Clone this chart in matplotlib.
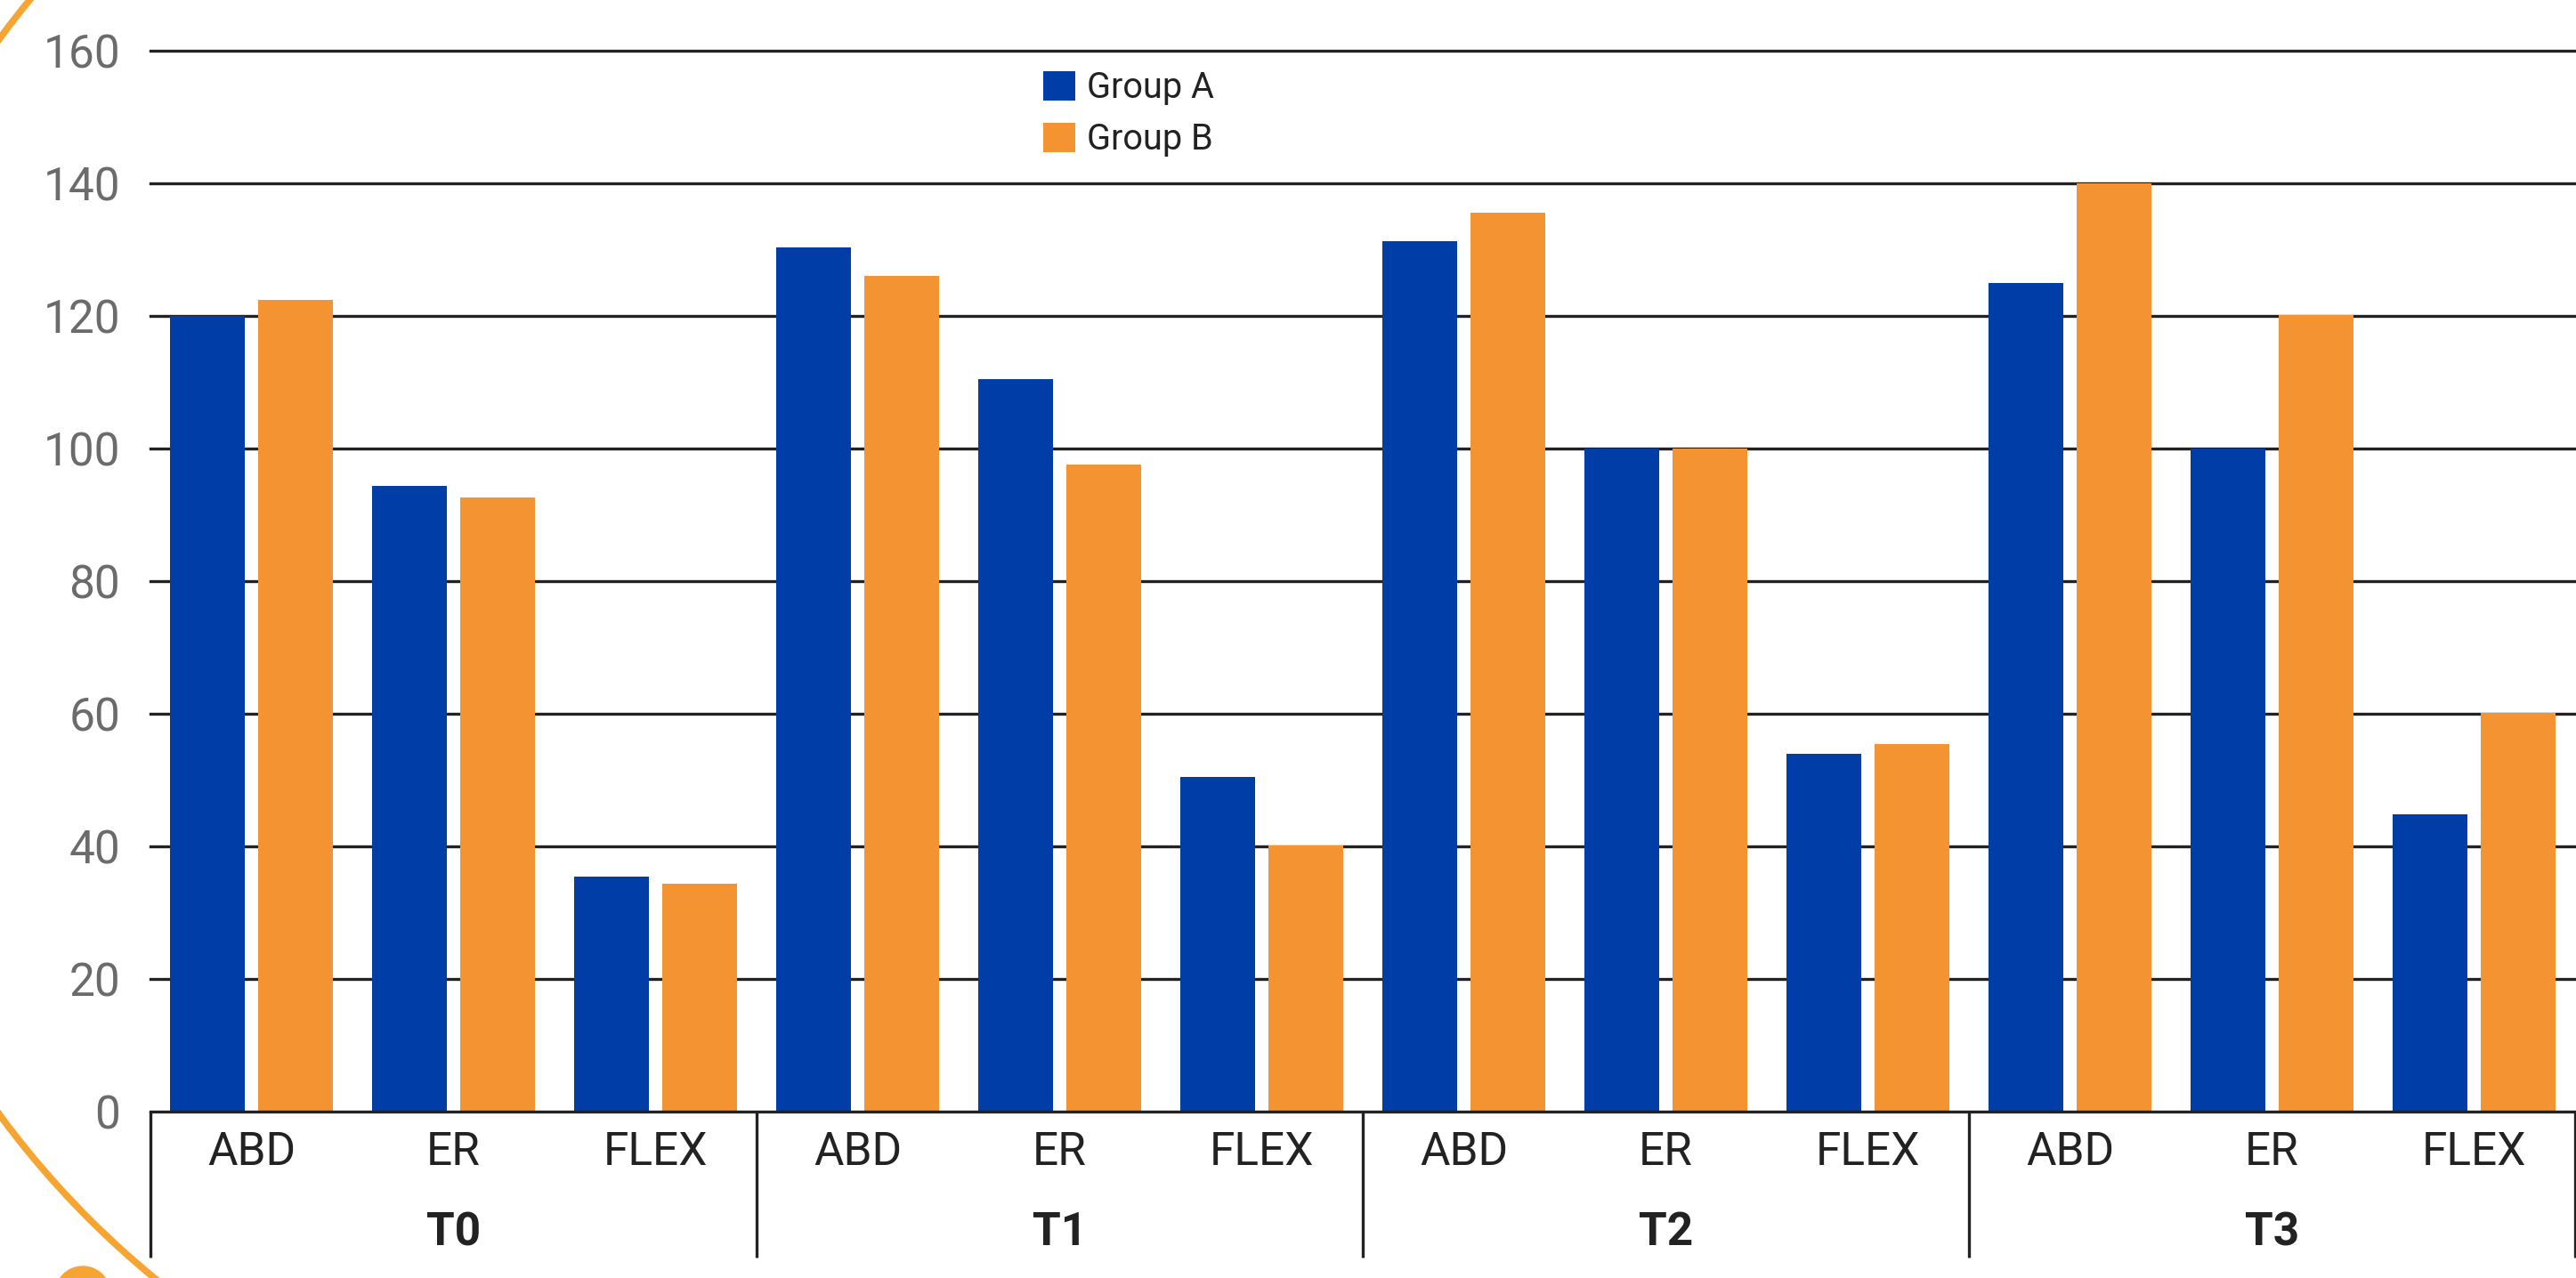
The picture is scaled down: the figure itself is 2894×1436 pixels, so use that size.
import matplotlib
matplotlib.use("Agg")
import matplotlib.pyplot as plt
from matplotlib.patches import Patch, Arc, Ellipse, Rectangle
from matplotlib.transforms import blended_transform_factory

# ---- data ----
periods = ["T0", "T1", "T2", "T3"]
movements = ["ABD", "ER", "FLEX"]
group_a = [120.0, 94.4, 35.4, 130.3, 110.5, 50.5, 131.3, 100.0, 54.0, 125.0, 100.0, 44.8]
group_b = [122.4, 92.6, 34.4, 126.1, 97.6, 40.1, 135.6, 100.0, 55.5, 140.0, 120.2, 60.1]
series_names = ["Group A", "Group B"]
y_ticks = [0, 20, 40, 60, 80, 100, 120, 140, 160]

# ---- style ----
BLUE = "#003DA6"
ORANGE = "#F39332"
DECOR = "#F6A533"
INK = "#222222"
GREY = "#6B6B6B"
FONT = ["Roboto", "DejaVu Sans"]
plt.rcParams["font.family"] = FONT

W, H, DPI = 2894, 1436, 100
PX = 72 / DPI  # points per pixel
fig = plt.figure(figsize=(W / DPI, H / DPI), dpi=DPI)
fig.patch.set_facecolor("white")

# axes frame in pixel terms
x_left, x_right = 169, 2893
y_top, y_base = 57, 1249
ax = fig.add_axes([x_left / W, (H - y_base) / H, (x_right - x_left) / W, (y_base - y_top) / H])
ax.set_facecolor("none")

n = len(group_a)
xs = list(range(n))
off, bw = 0.22, 0.37

ax.bar([x - off for x in xs], group_a, width=bw, color=BLUE, zorder=3, label=series_names[0])
ax.bar([x + off for x in xs], group_b, width=bw, color=ORANGE, zorder=3, label=series_names[1])

ax.set_xlim(-0.5, n - 0.5)
ax.set_ylim(0, 160)
for s in ax.spines.values():
    s.set_visible(False)

# horizontal grid
for t in y_ticks:
    ax.axhline(t, color=INK, lw=2.4, zorder=2 if t else 4, clip_on=False)

ax.set_yticks(y_ticks)
ax.set_yticklabels([str(t) for t in y_ticks])
ax.tick_params(axis="y", length=0, pad=34 * PX, labelsize=37, labelcolor=GREY)

ax.set_xticks(xs)
ax.set_xticklabels(movements * len(periods))
ax.tick_params(axis="x", length=0, pad=21 * PX, labelsize=37, labelcolor=INK)

# group separators and period labels below the axis
trans = blended_transform_factory(ax.transData, ax.transAxes)
sep_depth = -(1413 - y_base) / (y_base - y_top)
for k in range(len(periods) + 1):
    xsep = -0.5 + 3 * k
    ax.plot([xsep, xsep], [0, sep_depth], transform=trans, color=INK, lw=2.4,
            clip_on=False, solid_capstyle="butt", zorder=5)
label_y = -(1385 - y_base) / (y_base - y_top)
for k, p in enumerate(periods):
    ax.text(1 + 3 * k, label_y, p, transform=trans, ha="center", va="center",
            fontsize=37, fontweight="bold", color=INK)

# legend
handles = [Patch(facecolor=BLUE, edgecolor="none"), Patch(facecolor=ORANGE, edgecolor="none")]
leg = ax.legend(handles, series_names, loc="upper left",
                bbox_to_anchor=(1172 / W, (H - 79) / H), bbox_transform=fig.transFigure,
                frameon=False, fontsize=28.5, borderpad=0, borderaxespad=0,
                handlelength=0.9, handleheight=0.9, handletextpad=0.35,
                labelspacing=0.48)
for txt in leg.get_texts():
    txt.set_color(INK)

# decorative ring and dot on the left edge, masked by the chart panel
cx, cy, r = 821, 648, 1020
fig.add_artist(Arc((cx / W, (H - cy) / H), 2 * r / W, 2 * r / H, theta1=0, theta2=360,
                   transform=fig.transFigure, color=DECOR, lw=5.5, zorder=-3))
fig.add_artist(Ellipse((93 / W, (H - 1454) / H), 62 / W, 62 / H,
                       transform=fig.transFigure, color=DECOR, zorder=-3))
mask_left = 182
fig.add_artist(Rectangle((mask_left / W, 0), 1 - mask_left / W, 1, transform=fig.transFigure,
                         facecolor="white", edgecolor="none", zorder=-2))

fig.savefig("out.png", dpi=DPI)
